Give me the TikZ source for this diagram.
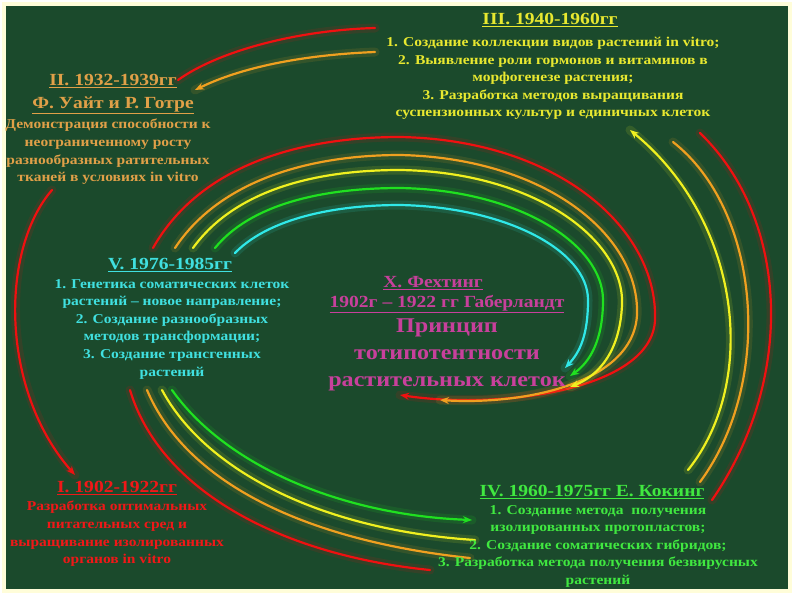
\documentclass[tikz,border=0pt]{standalone}
\usepackage{fontspec}
\setmainfont{Liberation Serif}[FakeStretch=1.15]
\usetikzlibrary{arrows.meta}
\definecolor{bg}{HTML}{1B4A2C}
\definecolor{cIII}{HTML}{E8E830}
\definecolor{cII}{HTML}{E0A048}
\definecolor{cV}{HTML}{40E0E0}
\definecolor{cX}{HTML}{C8409C}
\definecolor{cI}{HTML}{F01818}
\definecolor{cIV}{HTML}{40E840}
\definecolor{aR}{HTML}{F01010}
\definecolor{aO}{HTML}{F0A020}
\definecolor{aY}{HTML}{F0F020}
\definecolor{aG}{HTML}{20E020}
\definecolor{aC}{HTML}{30E8E8}
\newcommand{\glowarc}[3]{%
  \draw[#1,line width=9pt,opacity=0.12,line cap=round] #2;
  \draw[#1,line width=2.2pt,line cap=round,#3] #2;}
\tikzset{
  hd/.style={font=\bfseries\fontsize{17}{19}\selectfont,align=center,inner sep=1pt},
  bd/.style={font=\bfseries\fontsize{13.5}{17.6}\selectfont,align=center,inner sep=1pt},
  tip/.style={-{Stealth[length=9pt,width=7pt]}}
}
\begin{document}
\begin{tikzpicture}[x=1pt,y=-1pt]
\fill[white] (0,0) rectangle (794,595);
\fill[yellow!15] (2,2) rectangle (792,593);
\fill[bg] (6,6) rectangle (788,589);
\useasboundingbox (0,0) rectangle (794,595);
% central spiral
\glowarc{aR}{(153,248) .. controls (200,165) and (300,137) .. (400,137) .. controls (560,140) and (658,230) .. (655,320) .. controls (652,390) and (500,410) .. (400,395)}{tip}
\glowarc{aO}{(175,248) .. controls (220,180) and (310,155) .. (400,155) .. controls (545,158) and (640,235) .. (637,315) .. controls (633,385) and (520,405) .. (440,400)}{tip}
\glowarc{aY}{(193,248) .. controls (235,190) and (315,170) .. (400,170) .. controls (535,172) and (625,240) .. (622,305) .. controls (620,350) and (600,375) .. (570,387)}{tip}
\glowarc{aG}{(215,248) .. controls (250,205) and (320,188) .. (400,188) .. controls (520,190) and (603,245) .. (603,300) .. controls (603,340) and (590,362) .. (570,376)}{tip}
\glowarc{aC}{(235,253) .. controls (265,222) and (325,205) .. (400,205) .. controls (505,207) and (588,250) .. (588,300) .. controls (588,335) and (580,352) .. (565,368)}{tip}
% bottom (V -> IV)
\glowarc{aR}{(130,390) .. controls (160,490) and (280,555) .. (430,570)}{}
\glowarc{aO}{(147,390) .. controls (185,480) and (300,540) .. (470,558)}{}
\glowarc{aY}{(162,390) .. controls (205,470) and (320,530) .. (475,540)}{}
\glowarc{aG}{(172,390) .. controls (225,465) and (340,515) .. (472,520)}{tip}
% top (III -> II)
\glowarc{aR}{(375,28) .. controls (300,30) and (220,50) .. (178,80)}{}
\glowarc{aO}{(375,52) .. controls (300,55) and (240,68) .. (195,90)}{tip}
% left (II -> I)
\glowarc{aR}{(52,190) .. controls (0,250) and (0,390) .. (75,475)}{tip}
% right (IV -> III)
\glowarc{aY}{(688,470) .. controls (760,380) and (740,220) .. (630,130)}{tip}
\glowarc{aO}{(700,482) .. controls (775,380) and (760,210) .. (673,142)}{}
\glowarc{aR}{(712,500) .. controls (795,380) and (790,220) .. (700,133)}{}
% texts
\node[hd,text=cIII] (h3) at (550,20) {\underline{III. 1940-1960гг}};
\node[bd,text=cIII,anchor=north] (b3) at (553,36) {1. Создание коллекции видов растений in vitro;\\2. Выявление роли гормонов и витаминов в\\морфогенезе растения;\\3. Разработка методов выращивания\\суспензионных культур и единичных клеток};
\node[hd,text=cII] (h2) at (113,81) {\underline{II. 1932-1939гг}};
\node[hd,text=cII] (h2b) at (113,105) {\underline{Ф. Уайт и Р. Готре}};
\node[bd,text=cII,anchor=north] (b2) at (108,118) {Демонстрация способности к\\неограниченному росту\\разнообразных ратительных\\тканей в условиях in vitro};
\node[hd,text=cV] (h5) at (170,265) {\underline{V. 1976-1985гг}};
\node[bd,text=cV,anchor=north] (b5) at (172,278) {1. Генетика соматических клеток\\растений -- новое направление;\\2. Создание разнообразных\\методов трансформации;\\3. Создание трансгенных\\растений};
\node[hd,text=cX] (hx) at (433,283) {\underline{Х. Фехтинг}};
\node[hd,text=cX] (hx2) at (447,304) {\underline{1902г -- 1922 гг Габерландт}};
\node[font=\bfseries\fontsize{21}{27}\selectfont,text=cX,align=center,anchor=north] (bx) at (447,315) {Принцип\\тотипотентности\\растительных клеток};
\node[hd,text=cI] (h1) at (117,488) {\underline{I. 1902-1922гг}};
\node[bd,text=cI,anchor=north] (b1) at (117,500) {Разработка оптимальных\\питательных сред и\\выращивание изолированных\\органов in vitro};
\node[hd,text=cIV] (h4) at (592,492) {\underline{IV. 1960-1975гг Е. Кокинг}};
\node[bd,text=cIV,anchor=north] (b4) at (598,504) {1. Создание метода \ получения\\изолированных протопластов;\\2. Создание соматических гибридов;\\3. Разработка метода получения безвирусных\\растений};
\end{tikzpicture}
\end{document}
